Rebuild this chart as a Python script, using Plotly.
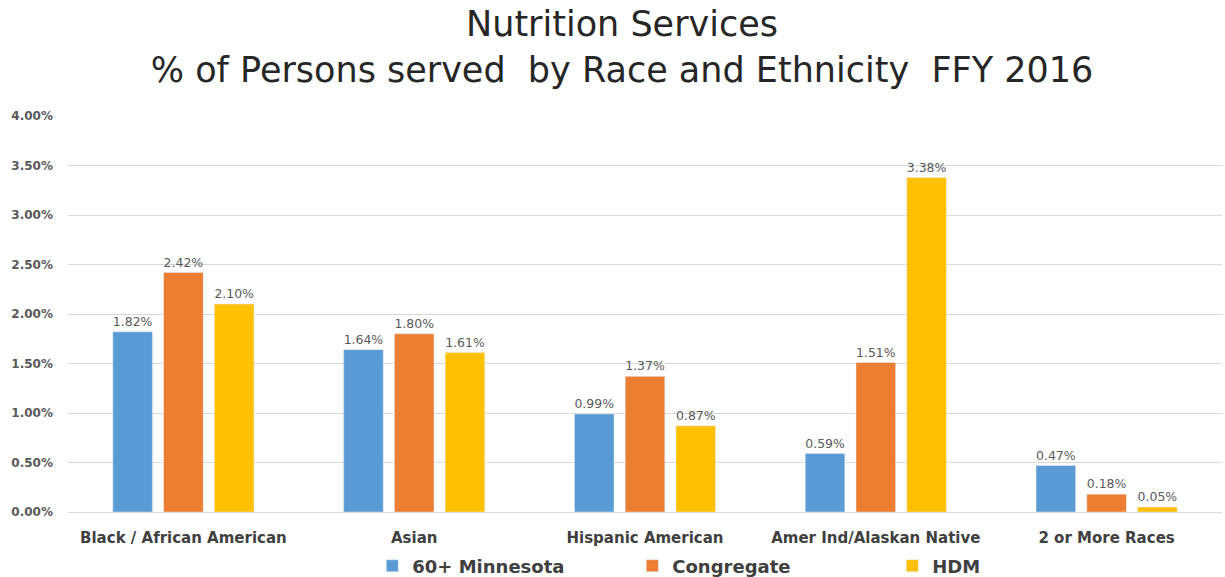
import plotly.graph_objects as go

categories = ["Black / African American", "Asian", "Hispanic American",
              "Amer Ind/Alaskan Native", "2 or More Races"]
mn60 = [0.0182, 0.0164, 0.0099, 0.0059, 0.0047]
congregate = [0.0242, 0.0180, 0.0137, 0.0151, 0.0018]
hdm = [0.0210, 0.0161, 0.0087, 0.0338, 0.0005]
series_names = ["60+ Minnesota", "Congregate", "HDM"]
colors = ["#5B9BD5", "#ED7D31", "#FFC000"]

FONT = "DejaVu Sans"

fig = go.Figure()
for name, vals, c in zip(series_names, [mn60, congregate, hdm], colors):
    fig.add_trace(go.Bar(
        x=categories, y=vals, name=name, marker_color=c,
        text=[f"{v:.2%}" for v in vals], textposition="outside",
        textfont=dict(size=13, color="#595959", family=FONT),
        cliponaxis=False,
    ))

fig.update_layout(
    width=1225, height=577,
    paper_bgcolor="white", plot_bgcolor="white",
    margin=dict(l=68, r=3, t=116, b=65, autoexpand=False),
    barmode="group", bargap=0.34, bargroupgap=0.22,
    title=dict(
        text="Nutrition Services<br>% of Persons served\u00a0 by Race and Ethnicity\u00a0 FFY 2016",
        x=622/1225, xanchor="center", yref="container", y=1 - 36/577, yanchor="middle",
        font=dict(size=35, color="#262626", family=FONT),
    ),
    yaxis=dict(range=[0, 0.04], dtick=0.005, tickformat=".2%",
               showgrid=True, gridcolor="#D9D9D9", zeroline=False,
               showline=False, ticks="",
               tickfont=dict(size=12, color="#595959", family=FONT, weight="bold"),
               ticklabelstandoff=14),
    xaxis=dict(showline=True, linecolor="#D9D9D9", ticks="",
               tickfont=dict(size=15, color="#404040", family=FONT, weight="bold"),
               ticklabelstandoff=12),
    legend=dict(orientation="h", x=737/1225, xanchor="center",
                yref="container", y=1 - 566/577, yanchor="middle",
                entrywidth=215, entrywidthmode="pixels",
                font=dict(size=18, color="#404040", family=FONT, weight="bold")),
    font=dict(family=FONT),
)

fig.write_html("out.html")
